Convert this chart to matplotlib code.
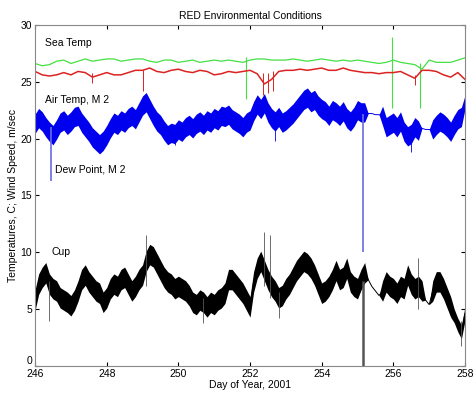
import numpy as np
import matplotlib
matplotlib.use("Agg")
import matplotlib.pyplot as plt

plt.rcParams['font.family'] = ['Liberation Sans', 'DejaVu Sans']

# sea temps, every 0.2 day
days_coarse = np.round(np.arange(246.0, 258.01, 0.2), 2)

sea_green = [26.6, 26.4, 26.5, 26.8, 26.9, 26.6, 26.8, 27.0, 26.8, 26.9,
             27.0, 27.0, 26.8, 26.9, 27.0, 27.0, 26.8, 26.7, 26.9, 26.9,
             26.7, 26.8, 26.9, 26.7, 26.8, 26.9, 26.8, 26.9, 26.8, 26.7,
             26.9, 27.0, 27.0, 26.9, 26.9, 26.9, 27.0, 26.9, 26.8, 26.9,
             27.0, 26.9, 26.8, 26.9, 26.8, 26.9, 26.8, 26.7, 26.6, 26.7,
             26.9, 26.7, 26.6, 26.5, 26.1, 26.9, 26.7, 26.7, 26.7, 26.9, 27.1]

sea_red = [25.9, 25.6, 25.5, 25.6, 25.8, 25.6, 25.9, 25.8, 25.4, 25.6,
           25.8, 25.6, 25.6, 25.8, 26.0, 26.0, 26.2, 25.9, 25.8, 26.0,
           26.1, 25.9, 25.8, 26.0, 25.9, 25.6, 25.7, 25.9, 25.8, 25.9,
           26.0, 25.7, 24.8, 25.2, 25.9, 26.0, 26.0, 26.1, 26.0, 26.1,
           26.2, 26.0, 26.0, 26.2, 26.0, 25.9, 25.8, 25.8, 25.7, 25.8,
           25.8, 25.9, 25.6, 25.3, 26.0, 26.0, 25.9, 25.6, 25.4, 25.8, 25.2]

# air temp and cup wind, every 0.1 day
days = np.round(np.arange(246.0, 258.01, 0.1), 2)

air_temp = [21.3, 21.8, 21.5, 21.0, 20.6, 20.3, 20.8, 21.4, 21.6, 21.2,
            21.5, 21.9, 22.0, 21.4, 21.0, 20.6, 20.1, 19.8, 19.5, 19.8,
            20.3, 20.9, 21.4, 21.2, 21.6, 21.4, 21.8, 22.0, 21.7, 22.3,
            22.9, 23.2, 22.6, 22.0, 21.5, 21.2, 20.7, 20.3, 20.5, 20.4,
            20.8, 20.6, 21.0, 21.2, 20.9, 21.3, 21.5, 21.2, 21.6, 21.4,
            21.8, 21.6, 22.0, 21.9, 22.1, 21.7, 21.5, 21.3, 21.0, 21.4,
            21.6, 22.4, 23.0, 22.6, 23.1, 22.3, 21.8, 21.5, 21.9, 21.4,
            21.6, 21.9, 22.2, 22.6, 23.0, 23.4, 23.6, 23.2, 23.4, 22.9,
            22.6, 22.4, 22.0, 22.5, 22.3, 22.0, 22.4, 21.8, 21.5, 21.9,
            22.5, 22.3, 22.3, 22.2, 22.2, 22.1, 22.1, 22.0, 21.0, 21.2,
            21.4, 21.0, 21.5, 20.6, 20.2, 20.4, 21.0, 20.7, 20.9, 20.8,
            20.8, 20.8, 21.2, 21.5, 21.3, 21.0, 20.6, 21.2, 21.7, 21.9,
            23.2]

air_spread = [0.85] * 93 + [0.0] * 4 + [0.85] * 11 + [0.0] * 3 + [0.85] * 9 + [0.6]

cup = [5.8, 7.2, 7.8, 8.2, 7.2, 6.8, 6.6, 6.0, 5.8, 5.6,
       5.3, 5.8, 6.6, 7.6, 8.0, 7.4, 7.0, 6.6, 6.4, 5.6,
       6.0, 6.8, 7.2, 7.0, 7.6, 7.8, 7.2, 6.6, 7.0, 7.6,
       8.0, 9.2, 9.8, 9.6, 9.0, 8.4, 7.8, 7.4, 7.2, 6.8,
       7.0, 6.8, 6.6, 6.2, 5.6, 5.4, 5.8, 5.6, 5.2, 5.6,
       5.4, 5.8, 6.0, 6.4, 7.6, 7.6, 7.2, 6.8, 6.4, 5.8,
       5.2, 7.4, 8.6, 9.2, 8.4, 7.6, 7.0, 6.6, 6.0, 6.2,
       6.8, 7.2, 7.8, 8.4, 8.8, 9.2, 9.0, 8.6, 8.0, 7.2,
       6.4, 6.6, 7.0, 7.6, 8.4, 7.6, 7.8, 8.6, 7.4, 7.0,
       6.8, 7.6, 8.2, 7.6, 7.0, 6.6, 6.2, 6.6, 7.4, 7.0,
       6.8, 6.4, 7.0, 6.8, 8.0, 7.2, 6.8, 7.0, 6.6, 5.8,
       5.4, 6.6, 7.4, 7.4, 6.8, 6.0, 5.2, 4.4, 3.6, 3.0,
       4.6]

cup_spread = [0.9] * 93 + [0.0] * 4 + [0.9] * 12 + [0.0] * 2 + [0.9] * 6 + [0.6] * 4

# spikes: (day, low, high)
green_spikes = [(251.9, 23.5, 27.2), (255.95, 22.7, 28.9), (256.75, 22.7, 26.6)]
red_spikes = [(247.6, 24.9, 25.8), (249.0, 24.2, 26.0), (252.35, 23.8, 25.8),
              (252.5, 24.0, 25.8), (252.65, 24.2, 25.9), (256.6, 24.7, 25.6)]
air_spikes = [(249.9, 19.4, 20.6), (252.7, 19.8, 22.0), (256.5, 18.8, 21.0)]
dew_spikes = [(246.45, 16.3, 21.0), (255.15, 10.0, 22.2)]
cup_spikes = [(249.1, 7.0, 11.5), (252.4, 7.0, 11.8), (252.55, 6.0, 11.5),
              (246.4, 4.0, 7.5), (250.7, 3.8, 6.0), (252.8, 4.2, 6.5),
              (256.7, 5.0, 9.5), (257.9, 1.8, 4.0)]

fig = plt.figure(figsize=(4.74, 3.94), dpi=100)
ax = fig.add_axes([0.074, 0.071, 0.907, 0.866])

air = np.array(air_temp)
ax.fill_between(days, air - np.array(air_spread), air + np.array(air_spread),
                color='#0000ee', lw=0)
ax.plot(days, air, color='#0000ee', lw=0.7)
for d, lo, hi in air_spikes:
    ax.vlines(d, lo, hi, color='#0000ee', lw=0.6)
for d, lo, hi in dew_spikes:
    ax.vlines(d, lo, hi, color='#6b6be0', lw=1.2)

ax.plot(days_coarse, sea_green, color='#44e044', lw=0.9)
for d, lo, hi in green_spikes:
    ax.vlines(d, lo, hi, color='#44e044', lw=0.8)
ax.plot(days_coarse, sea_red, color='#dd2222', lw=1.1)
for d, lo, hi in red_spikes:
    ax.vlines(d, lo, hi, color='#dd2222', lw=0.7)

c = np.array(cup)
ax.fill_between(days, c - np.array(cup_spread), c + np.array(cup_spread),
                color='black', lw=0)
ax.plot(days, c, color='black', lw=0.7)
for d, lo, hi in cup_spikes:
    ax.vlines(d, lo, hi, color='#555555', lw=0.6)
ax.vlines(255.15, 0, 7.5, color='#555555', lw=1.8)

ax.text(246.28, 28.1, 'Sea Temp', fontsize=7.5)
ax.text(246.28, 23.1, 'Air Temp, M 2', fontsize=7.5)
ax.text(246.55, 17.0, 'Dew Point, M 2', fontsize=7.5)
ax.text(246.45, 9.8, 'Cup', fontsize=7.5)

ax.set_xlim(246, 258)
ax.set_ylim(0, 30)
ax.set_xticks(range(246, 259, 2))
ax.set_yticks(range(0, 31, 5))
ax.tick_params(direction='in', top=True, right=True, labelsize=7.5, length=3, pad=2)
ax.get_yticklabels()[0].set_va('bottom')
ax.set_title('RED Environmental Conditions', fontsize=7.5, pad=4)
ax.set_xlabel('Day of Year, 2001', fontsize=7.5, labelpad=1)
ax.set_ylabel('Temperatures, C; Wind Speed, m/sec', fontsize=7.5, labelpad=2)
for s in ax.spines.values():
    s.set_color('#888888')

fig.savefig('out.png', dpi=100)
